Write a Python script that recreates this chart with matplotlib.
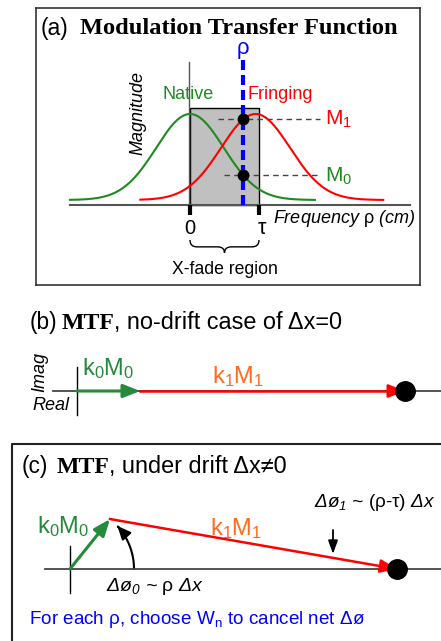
import numpy as np
import matplotlib
matplotlib.use('Agg')
import matplotlib.pyplot as plt
from matplotlib.patches import Rectangle, FancyArrowPatch, PathPatch
from matplotlib.path import Path

plt.rcParams['font.family'] = ['Liberation Sans', 'DejaVu Sans']
plt.rcParams['mathtext.fontset'] = 'custom'
plt.rcParams['mathtext.rm'] = 'Liberation Sans'
plt.rcParams['mathtext.it'] = 'Liberation Sans:italic'
plt.rcParams['mathtext.bf'] = 'Liberation Serif:bold'
plt.rcParams['mathtext.default'] = 'regular'

# ---------------- data ----------------
# panel (a): MTF curves (frequency in units of tau)
tau = 1.0
native_center = 0.0
native_width = 0.49
fringing_center = 0.95
fringing_width = 0.50
mtf_floor = 0.055
native_range = [-1.74, 1.81]
fringing_range = [-0.72, 2.80]
rho = 0.77
xfade_top = 1.066
tick_labels = ['0', r'$\tau$']

# panel (b): phasors, no drift (magnitudes, phases in degrees)
b_k0M0, b_phase0 = 0.63, 0.0
b_k1M1, b_phase1 = 2.65, 0.0

# panel (c): phasors under drift
c_k0M0, c_phase0 = 0.64, 51.3
c_k1M1, c_phase1 = 2.913, -9.88
c_arc_radius = 0.64

GREEN_CURVE = '#1f8a1f'
GREEN = '#26893c'
RED = '#ff0000'
ORANGE = '#ff6a1e'
BLUE = '#0000ff'

W, H = 441, 641
fig = plt.figure(figsize=(W / 100, H / 100), dpi=100)


def px_axes(x0, y0, x1, y1, xlim, ylim, frame=False):
    ax = fig.add_axes([x0 / W, 1 - y1 / H, (x1 - x0) / W, (y1 - y0) / H])
    ax.set_xlim(*xlim)
    ax.set_ylim(*ylim)
    ax.patch.set_alpha(0)
    ax.set_xticks([])
    ax.set_yticks([])
    if not frame:
        ax.axis('off')
    return ax


def mtf(x, c, w):
    return mtf_floor + (1 - mtf_floor) * np.exp(-(x - c) ** 2 / (2 * w ** 2))


# background pixel axes for frames & text
bg = px_axes(0, 0, W, H, (0, W), (H, 0))

# ---------------- panel (a) ----------------
ppx, ppy = 69.0, 91.0   # px per unit
ox, oy = 190.0, 205.0
ax = px_axes(36, 8, 420, 285,
             ((36 - ox) / ppx, (420 - ox) / ppx),
             ((oy - 285) / ppy, (oy - 8) / ppy), frame=True)
for s in ax.spines.values():
    s.set_color('#333333')
    s.set_linewidth(1.2)

ax.add_patch(Rectangle((0, 0), tau, xfade_top, fc='#c0c0c0', ec='black', lw=1.0, zorder=1))
ax.plot([-1.74, 3.19], [0, 0], color='#555555', lw=1.5, zorder=2)
ax.plot([-0.01, -0.01], [0, 1.57], color='#555555', lw=1.0, zorder=2)

xn = np.linspace(*native_range, 300)
xf = np.linspace(*fringing_range, 300)
ax.plot(xn, mtf(xn, native_center, native_width), color=GREEN_CURVE, lw=1.5, zorder=3)
ax.plot(xf, mtf(xf, fringing_center, fringing_width), color=RED, lw=1.5, zorder=3)

M1 = mtf(rho, fringing_center, fringing_width)
M0 = mtf(rho, native_center, native_width)
ax.plot([0.41, 1.89], [M1, M1], color='#444444', lw=1.0, dashes=(4, 3), zorder=2.5)
ax.plot([0.49, 1.89], [M0, M0], color='#444444', lw=1.0, dashes=(4, 3), zorder=2.5)
ax.plot([rho, rho], [0, 1.59], color=BLUE, lw=3.0, dashes=(2.4, 1.2), zorder=4)
ax.plot([rho, rho], [M1, M0], 'o', color='black', ms=7.5, zorder=5)

for xt, lab in zip([0, tau], tick_labels):
    ax.plot([xt, xt], [0, -0.11], color='black', lw=3.0, solid_capstyle='butt', zorder=3)
ax.text(0, -0.255, tick_labels[0], fontsize=14.5, ha='center', va='center')
ax.text(tau + 0.04, -0.255, tick_labels[1], fontsize=15.5, ha='center', va='center')

ax.text(rho, 1.70, r'$\rho$', color=BLUE, fontsize=16, ha='center', va='center')
ax.text(-0.03, 1.21, 'Native', color=GREEN_CURVE, fontsize=13, ha='center', va='center')
ax.text(0.84, 1.21, 'Fringing', color=RED, fontsize=13, ha='left', va='center')
ax.text(1.96, M1 + 0.0, r'M$_1$', color=RED, fontsize=15, ha='left', va='center')
ax.text(1.96, M0 - 0.02, r'M$_0$', color=GREEN_CURVE, fontsize=15, ha='left', va='center')
ax.text(-0.75, 1.01, 'Magnitude', fontsize=13, style='italic', rotation=90, ha='center', va='center')
ax.text(1.20, -0.143, r'Frequency $\mathrm{\rho}$ (cm)', fontsize=13, style='italic',
        ha='left', va='center')

# brace under x-fade region
ytop, ymid, ytip = -0.385, -0.46, -0.527
xc = tau / 2
verts = [(0, ytop), (0, ymid), (0.1, ymid), (xc - 0.1, ymid), (xc, ymid), (xc, ytip),
         (xc, ymid), (xc + 0.1, ymid), (tau - 0.1, ymid), (tau, ymid), (tau, ytop)]
codes = [Path.MOVETO, Path.CURVE3, Path.CURVE3, Path.LINETO, Path.CURVE3, Path.CURVE3,
         Path.CURVE3, Path.CURVE3, Path.LINETO, Path.CURVE3, Path.CURVE3]
ax.add_patch(PathPatch(Path(verts, codes), fc='none', ec='black', lw=1.0))
ax.text(xc, -0.714, 'X-fade region', fontsize=12.7, ha='center', va='center')

ax.text(-2.17, 1.945, '(a)', fontsize=16.5, ha='left', va='center')
ax.text(-1.594, 1.945, 'Modulation Transfer Function', fontsize=17.6, fontweight='bold',
        family='Liberation Serif', ha='left', va='center')


def arrow(a, tail, tip, color, lw, hl=0.5, hw=0.2, ms=20):
    a.annotate('', xy=tip, xytext=tail,
               arrowprops=dict(arrowstyle=f'-|>,head_length={hl},head_width={hw}',
                               color=color, lw=lw, shrinkA=0, shrinkB=0,
                               mutation_scale=ms))


def vec(m, deg):
    return np.array([m * np.cos(np.radians(deg)), m * np.sin(np.radians(deg))])


def title(x_paren, x_mtf, x_rest, y, label, rest):
    bg.text(x_paren, y, label, fontsize=16.3, ha='left', va='baseline')
    bg.text(x_mtf, y, 'MTF', fontsize=17.2, fontweight='bold', family='Liberation Serif',
            ha='left', va='baseline')
    bg.text(x_rest, y, rest, fontsize=16.9, ha='left', va='baseline')


# ---------------- panel (b) ----------------
S = 100.0
bx0, by0 = 77.0, 391.0
axb = px_axes(0, 330, W, 430, ((0 - bx0) / S, (W - bx0) / S), ((by0 - 430) / S, (by0 - 330) / S))
axb.plot([-0.24, 3.64], [0, 0], color='#444444', lw=1.3)
axb.plot([0, 0], [0.24, -0.24], color='black', lw=1.0)
p0 = vec(b_k0M0, b_phase0)
p1 = p0 + vec(b_k1M1, b_phase1)
axb.plot([p0[0], p1[0] - 0.1], [p0[1], p1[1]], color=RED, lw=1.8)
arrow(axb, (p1[0] - 0.15, p1[1]), p1, RED, 1.8)
arrow(axb, (0, 0), p0, GREEN, 2.2)
axb.plot([p1[0]], [p1[1]], 'o', color='black', ms=14, zorder=6)

title(30, 62, 114, 329, '(b)', ', no-drift case of Δx=0')
bg.text(82, 375, r'k$_0$M$_0$', color=GREEN, fontsize=17, ha='left', va='baseline')
bg.text(212, 383, r'k$_1$M$_1$', color=ORANGE, fontsize=17, ha='left', va='baseline')
bg.text(40, 372, 'Imag', fontsize=13, style='italic', rotation=90, ha='center', va='center')
bg.text(32, 410, 'Real', fontsize=13, style='italic', ha='left', va='baseline')

# ---------------- panel (c) ----------------
cx0, cy0 = 70.0, 569.0
axc = px_axes(0, 430, W, H, ((0 - cx0) / S, (W - cx0) / S), ((cy0 - H) / S, (cy0 - 430) / S))
axc.plot([-0.25, 3.71], [0, 0], color='#444444', lw=1.3)
axc.plot([0, 0], [0.23, -0.24], color='black', lw=1.0)
q0 = vec(c_k0M0, c_phase0)
q1 = q0 + vec(c_k1M1, c_phase1)
d = (q1 - q0) / np.linalg.norm(q1 - q0)
axc.plot([q0[0], q1[0] - 0.1 * d[0]], [q0[1], q1[1] - 0.1 * d[1]], color=RED, lw=1.8)
arrow(axc, q1 - 0.15 * d, q1, RED, 1.8)
arrow(axc, (0, 0), q0, GREEN, 2.2)
axc.plot([q1[0]], [q1[1]], 'o', color='black', ms=14, zorder=6)

th = np.radians(np.linspace(0, c_phase0 - 9, 60))
arc = Path(np.column_stack([c_arc_radius * np.cos(th), c_arc_radius * np.sin(th)]))
axc.add_patch(FancyArrowPatch(path=arc, arrowstyle='-|>,head_length=0.45,head_width=0.2',
                              mutation_scale=18, color='black', lw=1.5))
arrow(axc, (2.63, 0.39), (2.63, 0.15), 'black', 1.3, hl=0.5, hw=0.18, ms=16)

bg.plot([12, 12, W + 5], [H + 5, 444, 444], color='#222222', lw=1.5)
title(22, 57, 109, 473, '(c)', ', under drift Δx≠0')
bg.text(37, 533, r'k$_0$M$_0$', color=GREEN, fontsize=17, ha='left', va='baseline')
bg.text(210, 535, r'k$_1$M$_1$', color=ORANGE, fontsize=17, ha='left', va='baseline')
bg.text(314, 507, r'Δø$_1$ ~ $\mathrm{(\rho\text{-}\tau)}$ Δx', fontsize=13.6, style='italic',
        ha='left', va='baseline')
bg.text(106, 591, r'Δø$_0$ ~ $\mathrm{\rho}$ Δx', fontsize=14, style='italic', ha='left', va='baseline')
bg.text(29, 624, r'For each $\rho$, choose W$_n$ to cancel net Δø', fontsize=13.6, color=BLUE,
        ha='left', va='baseline')

fig.savefig('out.png', dpi=100)
